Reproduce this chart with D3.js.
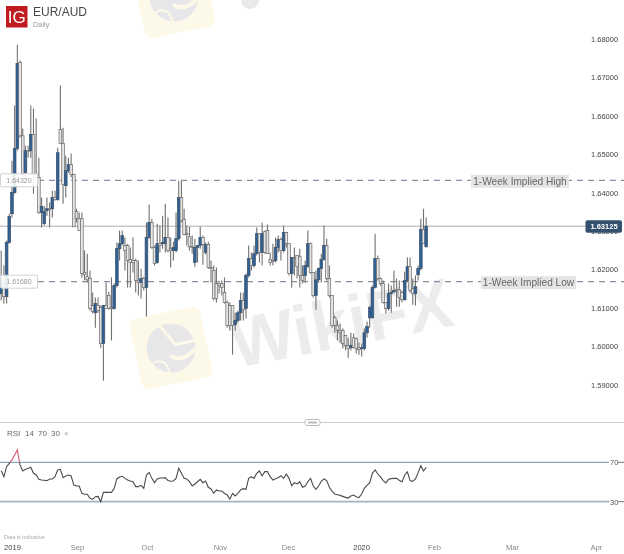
<!DOCTYPE html>
<html>
<head>
<meta charset="utf-8">
<script src="https://cdn.jsdelivr.net/npm/d3@7"></script>
<style>
html,body{margin:0;padding:0;background:#fff;overflow:hidden}
svg{display:block;filter:blur(0.45px);font-family:"Liberation Sans",Arial,sans-serif}
</style>
</head>
<body>
<div id="chart"></div>
<script>
const opens=[1.6137,1.6158,1.6129,1.6270,1.6345,1.6400,1.6515,1.6739,1.6548,1.6452,1.6509,1.6509,1.6551,1.6449,1.6439,1.6348,1.6319,1.6353,1.6358,1.6358,1.6387,1.6382,1.6564,1.6528,1.6418,1.6457,1.6473,1.6447,1.6351,1.6332,1.6332,1.6192,1.6181,1.6176,1.6106,1.6087,1.6106,1.6101,1.6007,1.6106,1.6132,1.6101,1.6098,1.6158,1.6254,1.6267,1.6262,1.6262,1.6226,1.6223,1.6223,1.6171,1.6166,1.6176,1.6153,1.6283,1.6322,1.6257,1.6218,1.6267,1.6267,1.6267,1.6283,1.6254,1.6249,1.6249,1.6280,1.6387,1.6330,1.6293,1.6285,1.6259,1.6218,1.6257,1.6262,1.6283,1.6244,1.6265,1.6205,1.6197,1.6163,1.6163,1.6163,1.6140,1.6114,1.6106,1.6106,1.6056,1.6067,1.6087,1.6119,1.6098,1.6184,1.6228,1.6210,1.6241,1.6293,1.6244,1.6298,1.6301,1.6226,1.6223,1.6223,1.6257,1.6278,1.6249,1.6296,1.6267,1.6189,1.6231,1.6236,1.6233,1.6184,1.6184,1.6207,1.6267,1.6192,1.6132,1.6173,1.6202,1.6226,1.6262,1.6176,1.6132,1.6074,1.6054,1.6041,1.6041,1.6028,1.6002,1.5996,1.6022,1.6020,1.5996,1.5994,1.5994,1.6035,1.6074,1.6074,1.6153,1.6228,1.6176,1.6163,1.6114,1.6098,1.6137,1.6142,1.6147,1.6147,1.6140,1.6121,1.6171,1.6207,1.6150,1.6137,1.6186,1.6202,1.6304,1.6259];
const highs=[1.6249,1.6210,1.6275,1.6345,1.6483,1.6627,1.6785,1.6744,1.6567,1.6522,1.6522,1.6627,1.6619,1.6593,1.6491,1.6387,1.6366,1.6387,1.6374,1.6405,1.6405,1.6517,1.6679,1.6569,1.6496,1.6491,1.6502,1.6449,1.6358,1.6348,1.6348,1.6249,1.6241,1.6197,1.6140,1.6127,1.6127,1.6106,1.6106,1.6166,1.6142,1.6179,1.6163,1.6270,1.6301,1.6301,1.6283,1.6267,1.6257,1.6283,1.6228,1.6223,1.6202,1.6181,1.6322,1.6369,1.6332,1.6262,1.6319,1.6314,1.6340,1.6371,1.6335,1.6283,1.6272,1.6348,1.6431,1.6431,1.6358,1.6314,1.6311,1.6288,1.6280,1.6262,1.6311,1.6288,1.6270,1.6272,1.6223,1.6210,1.6205,1.6166,1.6171,1.6179,1.6119,1.6114,1.6106,1.6087,1.6093,1.6140,1.6140,1.6189,1.6262,1.6244,1.6262,1.6309,1.6293,1.6322,1.6301,1.6317,1.6244,1.6267,1.6283,1.6288,1.6283,1.6314,1.6298,1.6267,1.6231,1.6257,1.6236,1.6254,1.6210,1.6223,1.6301,1.6270,1.6192,1.6197,1.6205,1.6241,1.6314,1.6280,1.6210,1.6132,1.6079,1.6067,1.6059,1.6046,1.6028,1.6022,1.6035,1.6033,1.6022,1.6009,1.6007,1.6046,1.6064,1.6106,1.6158,1.6293,1.6236,1.6179,1.6171,1.6114,1.6163,1.6158,1.6197,1.6176,1.6171,1.6145,1.6194,1.6231,1.6231,1.6176,1.6184,1.6210,1.6332,1.6358,1.6335];
const lows=[1.6119,1.6111,1.6111,1.6267,1.6335,1.6397,1.6509,1.6543,1.6439,1.6423,1.6491,1.6491,1.6397,1.6431,1.6345,1.6309,1.6314,1.6340,1.6309,1.6335,1.6379,1.6379,1.6528,1.6371,1.6387,1.6452,1.6439,1.6311,1.6322,1.6301,1.6179,1.6171,1.6166,1.6093,1.6085,1.6048,1.6087,1.5996,1.5910,1.6098,1.6095,1.6015,1.6095,1.6153,1.6223,1.6262,1.6197,1.6153,1.6153,1.6192,1.6140,1.6132,1.6124,1.6145,1.6077,1.6280,1.6254,1.6210,1.6215,1.6244,1.6254,1.6244,1.6244,1.6205,1.6223,1.6244,1.6275,1.6322,1.6288,1.6262,1.6249,1.6241,1.6207,1.6218,1.6254,1.6212,1.6239,1.6202,1.6166,1.6119,1.6114,1.6137,1.6132,1.6111,1.6048,1.6041,1.5978,1.6041,1.6061,1.6067,1.6067,1.6072,1.6179,1.6197,1.6205,1.6236,1.6218,1.6210,1.6241,1.6241,1.6210,1.6210,1.6218,1.6244,1.6223,1.6244,1.6257,1.6184,1.6153,1.6184,1.6176,1.6153,1.6163,1.6166,1.6205,1.6189,1.6127,1.6095,1.6166,1.6166,1.6223,1.6171,1.6127,1.6048,1.6035,1.6015,1.6009,1.5994,1.5989,1.5970,1.5989,1.5994,1.5981,1.5978,1.5973,1.5989,1.6022,1.6048,1.6072,1.6150,1.6171,1.6158,1.6111,1.6085,1.6093,1.6087,1.6137,1.6103,1.6103,1.6114,1.6119,1.6166,1.6140,1.6108,1.6106,1.6171,1.6197,1.6267,1.6257];
const closes=[1.6171,1.6129,1.6270,1.6338,1.6400,1.6515,1.6736,1.6548,1.6449,1.6509,1.6507,1.6551,1.6449,1.6439,1.6348,1.6364,1.6351,1.6358,1.6356,1.6387,1.6382,1.6504,1.6528,1.6421,1.6457,1.6473,1.6447,1.6311,1.6332,1.6301,1.6189,1.6186,1.6173,1.6098,1.6090,1.6111,1.6093,1.6007,1.6106,1.6098,1.6098,1.6098,1.6158,1.6254,1.6267,1.6288,1.6249,1.6223,1.6218,1.6218,1.6171,1.6166,1.6176,1.6153,1.6283,1.6322,1.6257,1.6215,1.6267,1.6262,1.6270,1.6283,1.6249,1.6249,1.6257,1.6280,1.6387,1.6327,1.6291,1.6291,1.6259,1.6257,1.6257,1.6262,1.6283,1.6265,1.6265,1.6205,1.6202,1.6124,1.6124,1.6158,1.6153,1.6114,1.6054,1.6054,1.6054,1.6067,1.6087,1.6119,1.6095,1.6184,1.6228,1.6210,1.6241,1.6293,1.6244,1.6293,1.6244,1.6241,1.6218,1.6220,1.6257,1.6278,1.6249,1.6296,1.6267,1.6189,1.6231,1.6228,1.6207,1.6184,1.6171,1.6210,1.6267,1.6192,1.6132,1.6173,1.6202,1.6226,1.6262,1.6176,1.6132,1.6054,1.6054,1.6041,1.6035,1.6007,1.6002,1.5994,1.6002,1.5996,1.5994,1.5991,1.5996,1.6035,1.6051,1.6101,1.6153,1.6228,1.6176,1.6163,1.6114,1.6098,1.6137,1.6140,1.6145,1.6145,1.6127,1.6121,1.6171,1.6207,1.6145,1.6137,1.6155,1.6202,1.6304,1.6267,1.63125];
const rsiValues=[61.5,55.4,65.6,69,72.4,77.5,82.5,67.3,61.2,62.9,63.6,64.9,58.8,57.1,52.7,52,51.7,51.4,53.1,53.1,55.4,62.2,62.9,54.4,56.1,57.1,56.1,46.9,45.9,45.9,38.5,37.5,37.5,33.4,32.4,35.1,35.4,30,39.5,39.5,39.5,39.5,43.6,53.1,55.1,55.8,53.7,52,51,50.3,45.3,45.3,46.6,43.6,57.1,59.8,53.7,49.3,53.1,54.1,54.1,54.4,51.4,50.7,51,53.7,63.9,58.8,53.7,53.1,50.3,45.9,48,50.3,52.7,49.3,51,44.6,42.9,38.5,41.9,40.8,40.8,38.5,36.8,32.7,38.5,35.8,38.5,41.9,43.2,42.5,53.7,55.4,53.7,58.8,61.2,56.1,60.5,60.5,55.4,52,53.4,54.4,56.4,53.7,58.1,53.7,46.3,49.3,48,50.3,44.6,45.9,50.3,53.7,45.9,42.5,45.9,50.7,53.1,51.4,44.6,40.8,37.8,37.1,36.4,35.4,34.4,33.7,35.8,36.8,35.1,34.1,37.8,43.6,46.6,49.3,58.8,62.2,58.1,55.4,51.4,49,52.7,53.4,53.7,53.7,51.7,50,57.1,60.2,51.4,50.7,53.1,59.5,66.6,61.2,64.9];
const priceTicks=[1.68,1.67,1.66,1.65,1.64,1.63,1.62,1.61,1.60,1.59];
const rsiTicks=[70,30];
const timeTickSessions=[4,28.2,54.2,81.3,106.6,133.8,160.9,189.9,221.1];
const timeTickLabels=["2019","Sep","Oct","Nov","Dec","2020","Feb","Mar","Apr"];
const lastPrice=1.63125, impliedHigh=1.6432, impliedLow=1.6168;
const impliedHighLabel="1-Week Implied High", impliedLowLabel="1-Week Implied Low";
const rsiHeader=["RSI","14","70","30","×"];

const W=624,H=554;
const svg=d3.select("#chart").append("svg").attr("width",W).attr("height",H).attr("viewBox",`0 0 ${W} ${H}`);
svg.append("rect").attr("width",W).attr("height",H).attr("fill","#fff");

const x=d3.scaleLinear().domain([0,closes.length-1]).range([1.2,426.2]);
const y=d3.scaleLinear().domain([1.68,1.59]).range([39,384.6]);
const yR=d3.scaleLinear().domain([70,30]).range([462.3,501.7]);

// watermarks
function badge(cx,cy,s){
  const g=svg.append("g").attr("transform",`translate(${cx},${cy}) rotate(-12)`);
  g.append("rect").attr("x",-s/2).attr("y",-s/2).attr("width",s).attr("height",s).attr("rx",8).attr("fill","#fdf9e9");
  const r=s*0.34;
  g.append("circle").attr("r",r).attr("fill","#e7e7e9");
  g.append("path").attr("d",`M${-r*0.3},${-r*1.05}L${r*0.2},${-r*0.1}L${r*1.05},${-r*0.1}`).attr("fill","none").attr("stroke","#fdf9e9").attr("stroke-width",3);
  g.append("path").attr("d",`M${-r*0.1},${r*0.3}Q${r*0.3},${r*0.7} ${r*0.95},${r*0.25}`).attr("fill","none").attr("stroke","#fdf9e9").attr("stroke-width",4);
  g.append("path").attr("d",`M${-r*0.95},${r*0.5}Q${-r*0.3},${r*0.2} ${-r*0.25},${r*1.05}`).attr("fill","none").attr("stroke","#fdf9e9").attr("stroke-width",2);
}
badge(174,-3,72);
badge(171,348,72);
svg.append("text").attr("transform","translate(236,368) rotate(-11)").attr("font-size",70).attr("font-weight",700).attr("fill","#ececec").attr("textLength",224).attr("lengthAdjust","spacingAndGlyphs").text("WikiFX");
svg.append("circle").attr("cx",250).attr("cy",0).attr("r",9).attr("fill","#e9e9ea");

// reference levels
svg.append("line").attr("x1",0).attr("x2",586).attr("y1",y(lastPrice)).attr("y2",y(lastPrice)).attr("stroke","#c9c9cb").attr("stroke-width",1.5);
[impliedHigh,impliedLow].forEach(v=>{
  svg.append("line").attr("x1",38).attr("x2",W).attr("y1",y(v)).attr("y2",y(v)).attr("stroke","#8d8fa3").attr("stroke-width",1.2).attr("stroke-dasharray","6,5");
});

// candles
const idx=d3.range(closes.length);
const bw=2.7;
const candles=svg.append("g").selectAll("g").data(idx).join("g");
candles.append("line").attr("x1",i=>x(i)).attr("x2",i=>x(i)).attr("y1",i=>y(highs[i])).attr("y2",i=>y(lows[i])).attr("stroke","#707070").attr("stroke-width",1.1);
candles.append("rect")
  .attr("x",i=>x(i)-bw/2).attr("width",bw)
  .attr("y",i=>y(Math.max(opens[i],closes[i])))
  .attr("height",i=>Math.max(0.8,Math.abs(y(opens[i])-y(closes[i]))))
  .attr("fill",i=>closes[i]>=opens[i]?"#2f6196":"#e6e6e6")
  .attr("stroke",i=>closes[i]>=opens[i]?"#3a5068":"#6a6a6a")
  .attr("stroke-width",0.7);

// left value boxes
[[impliedHigh,"1.64320"],[impliedLow,"1.61680"]].forEach(([v,t])=>{
  svg.append("rect").attr("x",0.5).attr("y",y(v)-6.5).attr("width",37).attr("height",13).attr("fill","#fff").attr("fill-opacity",0.9).attr("stroke","#cfd2d8").attr("rx",1);
  svg.append("text").attr("x",19).attr("y",y(v)+2.6).attr("text-anchor","middle").attr("font-size",7).attr("fill","#9a9a9a").text(t);
});

// implied labels
[[impliedHigh,impliedHighLabel,471,98],[impliedLow,impliedLowLabel,481,95]].forEach(([v,t,lx,lw])=>{
  svg.append("rect").attr("x",lx).attr("y",y(v)-5.5).attr("width",lw).attr("height",13).attr("fill","#e4e4e5");
  svg.append("text").attr("x",lx+lw/2).attr("y",y(v)+4.8).attr("text-anchor","middle").attr("font-size",10.1).attr("fill","#666").text(t);
});

// price axis
const ay=svg.append("g").attr("transform","translate(591,0)").call(d3.axisRight(y).tickValues(priceTicks).tickSize(0).tickPadding(0).tickFormat(d3.format(".5f")));
ay.select(".domain").remove();
ay.selectAll("text").attr("font-size",7.5).attr("font-family","inherit").attr("fill","#444");

// last price tag
svg.append("rect").attr("x",585.5).attr("y",y(lastPrice)-6).attr("width",36.5).attr("height",12.5).attr("rx",2).attr("fill","#34506f");
svg.append("text").attr("x",604).attr("y",y(lastPrice)+2.8).attr("text-anchor","middle").attr("font-size",7.5).attr("font-weight",700).attr("fill","#fff").text("1.63125");

// logo + title
svg.append("rect").attr("x",6).attr("y",6).attr("width",21.5).attr("height",21.5).attr("fill","#bf1c22");
svg.append("text").attr("x",16.7).attr("y",22.5).attr("text-anchor","middle").attr("font-size",17).attr("fill","#fff").text("IG");
svg.append("text").attr("x",33).attr("y",16).attr("font-size",12).attr("fill","#484848").text("EUR/AUD");
svg.append("text").attr("x",33).attr("y",26.5).attr("font-size",7.4).attr("fill","#999").text("Daily");

// separator
svg.append("line").attr("x1",0).attr("x2",W).attr("y1",422.5).attr("y2",422.5).attr("stroke","#cfcfcf").attr("stroke-width",1);
svg.append("rect").attr("x",305).attr("y",419.5).attr("width",15).attr("height",6).attr("rx",2).attr("fill","#fff").attr("stroke","#bbb");
svg.append("rect").attr("x",308).attr("y",421.5).attr("width",9).attr("height",2).attr("fill","#bbb");

// RSI header
const hx=[7,25,38,51,64];
rsiHeader.forEach((t,i)=>svg.append("text").attr("x",hx[i]).attr("y",436).attr("font-size",8).attr("fill",i==4?"#999":"#666").text(t));

// RSI pane
svg.append("line").attr("x1",0).attr("x2",609).attr("y1",yR(70)).attr("y2",yR(70)).attr("stroke","#6f8fb0").attr("stroke-width",1);
svg.append("line").attr("x1",0).attr("x2",609).attr("y1",yR(30)).attr("y2",yR(30)).attr("stroke","#a3b3c6").attr("stroke-width",1.8);
const ar=svg.append("g").attr("transform","translate(610,0)").call(d3.axisRight(yR).tickValues(rsiTicks).tickSize(0).tickPadding(0));
ar.select(".domain").remove();
ar.selectAll("text").attr("font-size",7.6).attr("font-family","inherit").attr("fill","#555");
rsiTicks.forEach(v=>svg.append("line").attr("x1",618).attr("x2",624).attr("y1",yR(v)).attr("y2",yR(v)).attr("stroke","#777"));

const defs=svg.append("defs");
defs.append("clipPath").attr("id","above").append("rect").attr("x",0).attr("y",400).attr("width",W).attr("height",yR(70)-400);
defs.append("clipPath").attr("id","below").append("rect").attr("x",0).attr("y",yR(70)).attr("width",W).attr("height",80);
const rl=d3.line().x((d,i)=>x(i)).y(d=>yR(d));
svg.append("path").attr("d",rl(rsiValues)).attr("fill","none").attr("stroke","#4a4a4a").attr("stroke-width",1.1).attr("clip-path","url(#below)");
svg.append("path").attr("d",rl(rsiValues)).attr("fill","none").attr("stroke","#d8566b").attr("stroke-width",1.1).attr("clip-path","url(#above)");

// footer
svg.append("text").attr("x",4).attr("y",539).attr("font-size",5.4).attr("fill","#aaa").text("Data is indicative");
const ax=svg.append("g").attr("transform","translate(0,545)").call(d3.axisBottom(x).tickValues(timeTickSessions).tickSize(0).tickPadding(0).tickFormat((d,i)=>timeTickLabels[i]));
ax.select(".domain").remove();
ax.selectAll("text").attr("font-size",7.6).attr("font-family","inherit").attr("fill",(d,i)=>/^\d/.test(timeTickLabels[i])?"#444":"#888");
</script>
</body>
</html>
